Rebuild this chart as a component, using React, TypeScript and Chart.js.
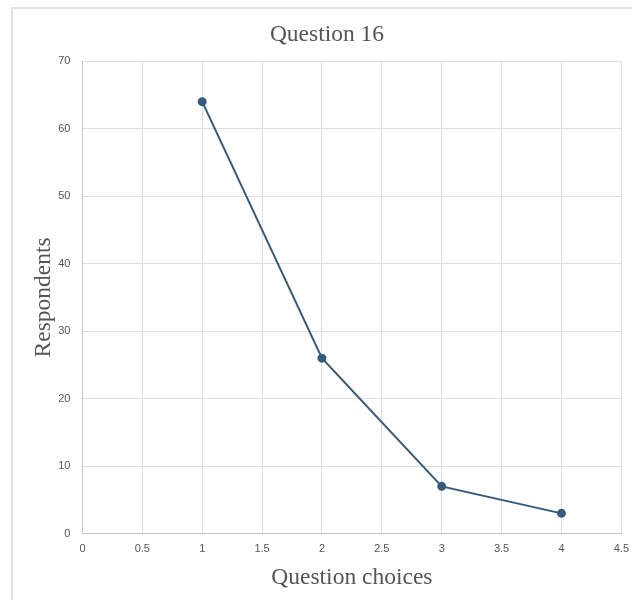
import React, { useEffect, useRef } from "react";
import { Chart, registerables } from "chart.js";

Chart.register(...registerables);

const chartTitle = "Question 16";
const xAxisTitle = "Question choices";
const yAxisTitle = "Respondents";
const choices = [1, 2, 3, 4];
const respondents = [64, 26, 7, 3];

export default function App() {
  const ref = useRef<HTMLCanvasElement | null>(null);
  useEffect(() => {
    document.body.style.margin = "0";
    const ctx = ref.current!;
    const chart = new Chart(ctx, {
      type: "scatter",
      data: {
        datasets: [
          {
            data: choices.map((x, i) => ({ x, y: respondents[i] })),
            showLine: true,
            borderColor: "#365a7c",
            backgroundColor: "#365a7c",
            borderWidth: 2,
            pointRadius: 3.5,
            tension: 0,
          },
        ],
      },
      options: {
        animation: false,
        responsive: false,
        layout: { padding: { top: 11, left: 30, right: 14, bottom: 8 } },
        plugins: {
          legend: { display: false },
          tooltip: { enabled: false },
          title: {
            display: true,
            text: chartTitle,
            color: "#555555",
            font: { family: "'Liberation Serif', serif", size: 23.5, weight: "normal" },
            padding: { top: 10, bottom: 12 },
          },
        },
        scales: {
          x: {
            type: "linear",
            min: 0,
            max: 4.5,
            ticks: {
              stepSize: 0.5,
              color: "#555555",
              font: { family: "'Liberation Sans', Arial, sans-serif", size: 11 },
              padding: 9,
              callback: (v: any) => String(v),
            },
            grid: { color: "#dedede", tickLength: 0 },
            border: { color: "#c4c4c4" },
            title: {
              display: true,
              text: xAxisTitle,
              color: "#555555",
              font: { family: "'Liberation Serif', serif", size: 23.5 },
              padding: { top: -1, bottom: 0 },
            },
          },
          y: {
            type: "linear",
            min: 0,
            max: 70,
            ticks: {
              stepSize: 10,
              color: "#555555",
              font: { family: "'Liberation Sans', Arial, sans-serif", size: 11 },
              padding: 12,
              callback: (v: any) => String(v),
            },
            grid: { color: "#dedede", tickLength: 0 },
            border: { color: "#c4c4c4" },
            title: {
              display: true,
              text: yAxisTitle,
              color: "#555555",
              font: { family: "'Liberation Serif', serif", size: 23.5 },
              padding: { top: 0, bottom: -12 },
            },
          },
        },
      },
    });
    return () => chart.destroy();
  }, []);
  return (
    <div style={{ position: "fixed", left: 0, top: 0, width: 632, height: 600, background: "#ffffff", overflow: "hidden" }}>
      <div
        style={{
          position: "absolute",
          left: 11,
          top: 7,
          width: 700,
          height: 700,
          borderLeft: "2px solid #e2e2e2",
          borderTop: "2px solid #e2e2e2",
        }}
      />
      <canvas ref={ref} width={638} height={600} style={{ position: "absolute", left: 0, top: 0 }} />
    </div>
  );
}
